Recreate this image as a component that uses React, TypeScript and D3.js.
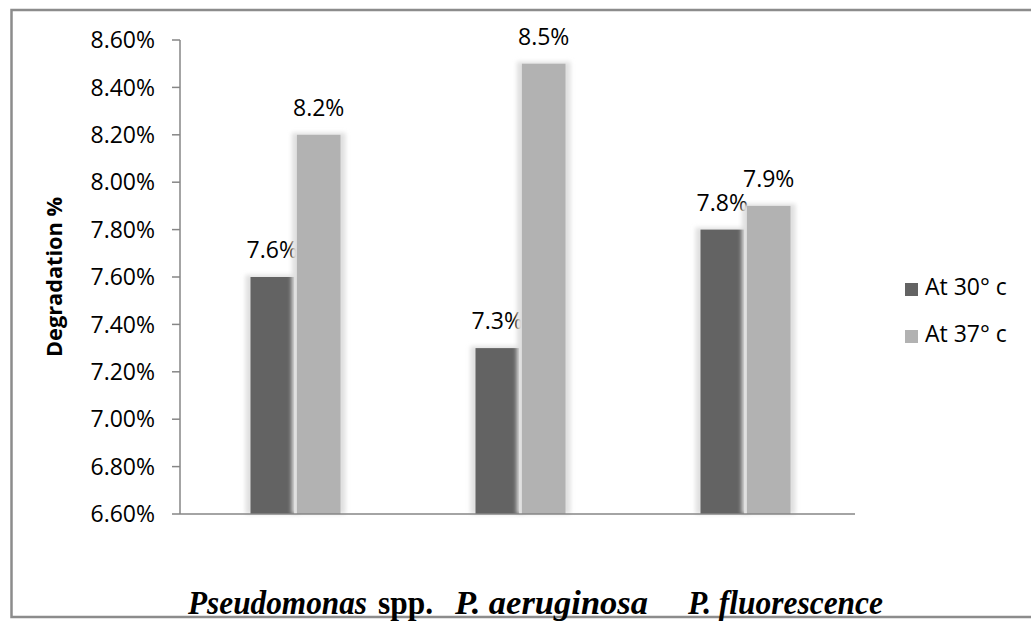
import React from "react";
import * as d3 from "d3";

const categories = ["Pseudomonas spp.", "P. aeruginosa", "P. fluorescence"];
const seriesNames = ["At 30° c", "At 37° c"];
const at30 = [0.076, 0.073, 0.078];
const at37 = [0.082, 0.085, 0.079];
const valueLabels30 = ["7.6%", "7.3%", "7.8%"];
const valueLabels37 = ["8.2%", "8.5%", "7.9%"];
const yTicks = [0.066, 0.068, 0.07, 0.072, 0.074, 0.076, 0.078, 0.08, 0.082, 0.084, 0.086];
const colors = ["#636363", "#b2b2b2"];

const W = 1031;
const H = 621;
const plot = { left: 180, right: 855, top: 40, bottom: 514 };

export default function App() {
  const x0 = d3.scaleBand<string>().domain(categories).range([plot.left, plot.right]);
  const x1 = d3.scaleBand<string>().domain(seriesNames).range([0, 90]).paddingInner(0.06);
  const y = d3.scaleLinear().domain([0.066, 0.086]).range([plot.bottom, plot.top]);
  const fmt = d3.format(".2%");
  const series = [at30, at37];
  const labels = [valueLabels30, valueLabels37];
  const sans = "'Open Sans', sans-serif";
  const serif = "'Liberation Serif', 'Times New Roman', serif";

  // category label pieces: [text, italic, x, width]
  const labelPieces: [string, boolean, number, number][][] = [
    [["Pseudomonas", true, 188, 179], ["spp.", false, 378, 55]],
    [["P. aeruginosa", true, 455, 193]],
    [["P. fluorescence", true, 688, 195]],
  ];

  return (
    <svg width={W} height={H} style={{ position: "absolute", left: 0, top: 0 }}>
      <defs>
        <filter id="glow" x="-30%" y="-10%" width="160%" height="120%">
          <feGaussianBlur stdDeviation="2.2" />
        </filter>
      </defs>
      <rect x={0} y={0} width={W} height={H} fill="#fff" />
      {/* outer frame */}
      <path d={`M${W + 5},10 H11.5 V617 H${W + 5}`} fill="none" stroke="#8c8c8c" strokeWidth={2.5} />

      {/* bars */}
      {categories.map((c, i) => {
        const gx = (x0(c) as number) + x0.bandwidth() / 2 - 45 + 3;
        return (
          <g key={c}>
            {seriesNames.map((s, j) => {
              const bx = gx + (x1(s) as number);
              const bw = x1.bandwidth();
              const v = series[j][i];
              const top = y(v);
              return (
                <g key={s}>
                  <rect x={bx - 5} y={top - 2} width={bw + 10} height={plot.bottom - top + 2} fill="#e0e0e0" filter="url(#glow)" />
                  <rect x={bx} y={top} width={bw} height={plot.bottom - top} fill={colors[j]} />
                  <text x={bx + bw / 2} y={top - 19} textAnchor="middle" fontFamily={sans} fontSize={23} fill="#000">
                    {labels[j][i]}
                  </text>
                </g>
              );
            })}
          </g>
        );
      })}

      {/* axes */}
      <line x1={plot.left} x2={plot.left} y1={plot.top} y2={plot.bottom} stroke="#868686" strokeWidth={1.5} />
      <line x1={plot.left} x2={plot.right} y1={plot.bottom} y2={plot.bottom} stroke="#868686" strokeWidth={1.5} />
      {yTicks.map((t) => (
        <g key={t}>
          <line x1={plot.left - 8} x2={plot.left} y1={y(t)} y2={y(t)} stroke="#868686" strokeWidth={1.5} />
          <text x={155} y={y(t)} dy="0.36em" textAnchor="end" fontFamily={sans} fontSize={23} fill="#000">
            {fmt(t)}
          </text>
        </g>
      ))}
      <text
        transform={`translate(62,277) rotate(-90)`}
        textAnchor="middle"
        fontFamily={sans}
        fontSize={21}
        fontWeight="bold"
        fill="#000"
        textLength={160}
        lengthAdjust="spacingAndGlyphs"
      >
        Degradation %
      </text>

      {/* legend */}
      {seriesNames.map((s, j) => (
        <g key={s} transform={`translate(905,${283 + j * 47})`}>
          <rect x={0} y={0} width={13} height={13} fill={colors[j]} />
          <text x={20} y={12} fontFamily={sans} fontSize={23} fill="#000">
            {s}
          </text>
        </g>
      ))}

      {/* category labels */}
      {labelPieces.map((pieces, i) =>
        pieces.map(([t, italic, px, pw]) => (
          <text
            key={`${i}-${t}`}
            x={px}
            y={614}
            fontFamily={serif}
            fontSize={33}
            fontWeight="bold"
            fontStyle={italic ? "italic" : "normal"}
            fill="#000"
            textLength={pw}
            lengthAdjust="spacingAndGlyphs"
          >
            {t}
          </text>
        ))
      )}
    </svg>
  );
}
